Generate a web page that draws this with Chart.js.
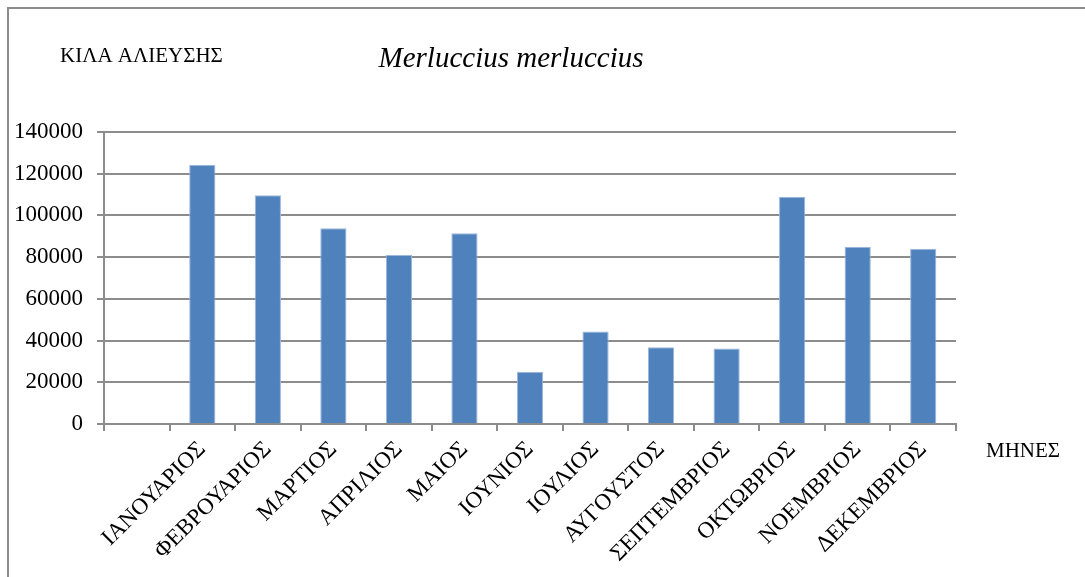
<!DOCTYPE html>
<html>
<head>
<meta charset="utf-8">
<script src="https://cdn.jsdelivr.net/npm/chart.js@4"></script>
<style>
  html, body { margin: 0; padding: 0; background: #fff; }
  #wrap { position: relative; width: 1085px; height: 577px; }
  #frame { position: absolute; left: 7px; top: 7px; width: 1100px; height: 600px;
           border-left: 2px solid #8c8c8c; border-top: 2px solid #8c8c8c; }
  canvas { position: absolute; left: 0; top: 0; }
</style>
</head>
<body>
<div id="wrap">
  <div id="frame"></div>
  <canvas id="bar-charts" width="1085" height="577"></canvas>
</div>
<script>
const months = ["", "ΙΑΝΟΥΑΡΙΟΣ", "ΦΕΒΡΟΥΑΡΙΟΣ", "ΜΑΡΤΙΟΣ", "ΑΠΡΙΛΙΟΣ", "ΜΑΙΟΣ", "ΙΟΥΝΙΟΣ",
  "ΙΟΥΛΙΟΣ", "ΑΥΓΟΥΣΤΟΣ", "ΣΕΠΤΕΜΒΡΙΟΣ", "ΟΚΤΩΒΡΙΟΣ", "ΝΟΕΜΒΡΙΟΣ", "ΔΕΚΕΜΒΡΙΟΣ"];
const kilos = [null, 124300, 109700, 93900, 81000, 91400, 25000, 44400, 36800, 36200, 109000, 85000, 84000];
const yTicks = [0, 20000, 40000, 60000, 80000, 100000, 120000, 140000];

const title = "Merluccius merluccius";
const yTitle = "ΚΙΛΑ ΑΛΙΕΥΣΗΣ";
const xTitle = "ΜΗΝΕΣ";

const serif = "'Liberation Serif', 'Times New Roman', serif";
const gray = "#8c8c8c";

// plain text labels placed like in the original sheet
const textPlugin = {
  id: "texts",
  afterDraw(chart) {
    const ctx = chart.ctx;
    const area = chart.chartArea;
    ctx.save();
    ctx.fillStyle = "#000";
    ctx.textBaseline = "middle";
    ctx.textAlign = "left";
    ctx.font = "21px " + serif;
    ctx.fillText(yTitle, 60, 56);
    ctx.fillText(xTitle, area.right + 30, 451);
    ctx.textAlign = "center";
    ctx.font = "italic 29px " + serif;
    ctx.fillText(title, 511, 59);
    ctx.restore();
  },
};

new Chart(document.getElementById("bar-charts"), {
  type: "bar",
  data: {
    labels: months,
    datasets: [
      {
        label: "kila",
        data: kilos,
        backgroundColor: "#4f81bd",
        borderColor: "#9bb7dc",
        borderWidth: 1,
        barPercentage: 0.4,
        categoryPercentage: 1,
      },
    ],
  },
  options: {
    responsive: false,
    animation: false,
    layout: { padding: { left: 8, top: 132, right: 129, bottom: 0 } },
    plugins: {
      legend: { display: false },
      tooltip: { enabled: false },
      title: { display: false },
    },
    scales: {
      x: {
        afterFit: (scale) => { scale.height = 153; },
        grid: {
          offset: true,
          drawOnChartArea: false,
          drawTicks: true,
          tickLength: 7,
          color: gray,
          lineWidth: 2,
        },
        border: { display: true, color: gray, width: 2 },
        ticks: {
          autoSkip: false,
          minRotation: 45,
          maxRotation: 45,
          padding: 5,
          color: "#000",
          font: { family: serif, size: 23 },
        },
      },
      y: {
        min: 0,
        max: 140000,
        afterFit: (scale) => { scale.width = 96; },
        afterBuildTicks: (scale) => { scale.ticks = yTicks.map((v) => ({ value: v })); },
        grid: { color: gray, lineWidth: 2, tickLength: 7 },
        border: { display: true, color: gray, width: 2 },
        ticks: {
          padding: 14,
          color: "#000",
          font: { family: serif, size: 23 },
          callback: (value) => String(value),
        },
      },
    },
  },
  plugins: [textPlugin],
});
</script>
</body>
</html>
